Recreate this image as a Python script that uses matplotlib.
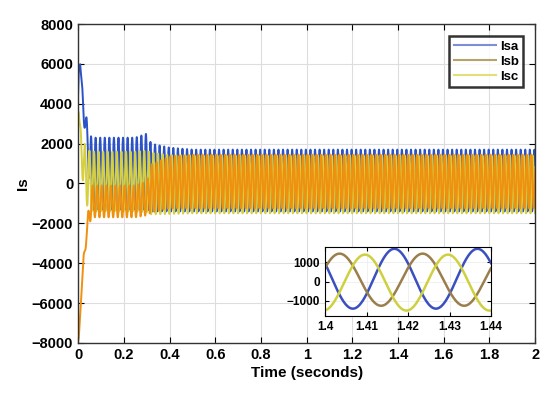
import numpy as np
import matplotlib.pyplot as plt
from matplotlib.lines import Line2D
from matplotlib.ticker import FormatStrFormatter

plt.rcParams['font.family'] = ['Liberation Sans', 'DejaVu Sans']
plt.rcParams['font.weight'] = 'bold'

# envelope (time in s, current in A)
t_env = [0, 0.003, 0.009, 0.015, 0.023, 0.035, 0.05, 0.06, 0.25, 0.3, 0.32, 0.4, 0.5, 2.0]
isa_offset = [4500, 5900, 6100, 5000, 3800, 2700, 1200, 500, 500, 600, 300, 200, 150, 150]
isa_amp = [50, 100, 150, 300, 500, 700, 1300, 1800, 1800, 1900, 1700, 1600, 1550, 1550]
isb_offset = [-7900, -7800, -6600, -5300, -4000, -2700, -1400, -900, -900, -750, -250, 50, 100, 100]
isb_amp = [30, 50, 100, 150, 250, 350, 600, 800, 800, 850, 1200, 1300, 1350, 1350]
isc_offset = [3700, 3600, 2400, 1700, 1000, 400, 150, 100, 100, 100, 0, -50, -50, -50]
isc_amp = [50, 100, 500, 900, 1200, 1400, 1500, 1500, 1500, 1550, 1550, 1480, 1450, 1450]

f_grid = 50.0
# time of a positive peak of each phase
t_peak_a = 1.4167
t_peak_b = 1.4235
t_peak_c = 1.4296

names = ['Isa', 'Isb', 'Isc']
colors = ['#2b52c6', '#f0900f', '#d6cf40']
inset_colors = ['#3a50c0', '#9a7f4c', '#cfd040']
legend_colors = ['#7d8ed6', '#b7a36a', '#e2de78']

t = np.linspace(0, 2, 40001)


def phase(offset, amp, tp):
    return np.interp(t, t_env, offset) + np.interp(t, t_env, amp) * np.cos(2 * np.pi * f_grid * (t - tp))


isa = phase(isa_offset, isa_amp, t_peak_a)
isb = phase(isb_offset, isb_amp, t_peak_b)
isc = phase(isc_offset, isc_amp, t_peak_c)
series = [isa, isb, isc]

fig = plt.figure(figsize=(5.5, 3.95), dpi=100)
ax = fig.add_axes([0.142, 0.132, 0.831, 0.807])
# orange phase drawn last, it covers most of the band in the picture
for i in [0, 2, 1]:
    ax.plot(t, series[i], color=colors[i], lw=1.4)

ax.set_xlim(0, 2)
ax.set_ylim(-8000, 8000)
ax.set_xticks(np.arange(0, 2.01, 0.2))
ax.set_yticks(np.arange(-8000, 8001, 2000))
ax.xaxis.set_major_formatter(FormatStrFormatter('%g'))
ax.tick_params(direction='in', top=True, right=True, labelsize=10.5, length=4, width=0.8)
ax.grid(True, color='#dddddd', lw=0.8)
for s in ax.spines.values():
    s.set_linewidth(1.0)
    s.set_color('#333333')
ax.set_xlabel('Time (seconds)', fontsize=11, fontweight='bold', labelpad=3)
ax.set_ylabel('Is', fontsize=11, fontweight='bold', labelpad=1)

handles = [Line2D([], [], color=c, lw=1.5) for c in legend_colors]
leg = ax.legend(handles, names, loc='upper right', fontsize=9.5,
                frameon=True, fancybox=False, borderaxespad=0.9, handlelength=3.2,
                labelspacing=0.2, borderpad=0.35, handletextpad=0.3)
leg.get_frame().set_edgecolor('black')
leg.get_frame().set_linewidth(1.8)
for txt in leg.get_texts():
    txt.set_fontweight('bold')

# zoomed inset
axi = fig.add_axes([0.591, 0.2, 0.302, 0.175])
m = (t >= 1.4) & (t <= 1.44)
for y, c in zip(series, inset_colors):
    axi.plot(t[m], y[m], color=c, lw=1.8)
axi.set_xlim(1.4, 1.44)
axi.set_ylim(-1780, 1800)
axi.set_xticks([1.4, 1.41, 1.42, 1.43, 1.44])
axi.set_yticks([-1000, 0, 1000])
axi.xaxis.set_major_formatter(FormatStrFormatter('%g'))
axi.tick_params(direction='in', top=True, right=True, labelsize=8.5, length=3)
axi.grid(True, color='#eeeeee', lw=0.6)

fig.savefig('out.png', dpi=100)
